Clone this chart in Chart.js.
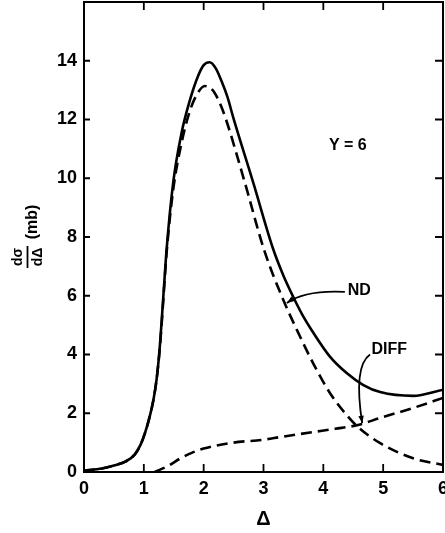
<!DOCTYPE html>
<html>
<head>
<meta charset="utf-8">
<script src="https://cdn.jsdelivr.net/npm/chart.js@4"></script>
<style>
  body { margin: 0; background: #fff; }
  #wrap { width: 445px; height: 533px; }
</style>
</head>
<body>
<div id="wrap"><canvas id="c" width="445" height="533"></canvas></div>
<script>
// --- data ---
const xTicks = [0, 1, 2, 3, 4, 5, 6];
const yTicks = [0, 2, 4, 6, 8, 10, 12, 14];

// solid curve (total)
const totX = [0, 0.3, 0.5, 0.7, 0.85, 0.95, 1.02, 1.1, 1.16, 1.21, 1.26, 1.3, 1.34, 1.38, 1.49, 1.63, 1.77, 1.9, 2.0, 2.1, 2.2, 2.3, 2.4, 2.49, 2.83, 3.16, 3.33, 3.5, 3.65, 3.83, 4.11, 4.39, 4.67, 4.95, 5.5, 6.0];
const totY = [0.05, 0.12, 0.22, 0.36, 0.6, 0.95, 1.33, 1.9, 2.45, 3.1, 4.1, 5.2, 6.4, 7.56, 9.84, 11.54, 12.66, 13.45, 13.85, 13.95, 13.75, 13.3, 12.75, 12.1, 9.84, 7.6, 6.7, 5.95, 5.35, 4.75, 3.93, 3.37, 2.96, 2.72, 2.59, 2.8];

// dashed peaked curve (ND)
const ndX = [0, 0.3, 0.5, 0.7, 0.85, 0.95, 1.02, 1.1, 1.16, 1.21, 1.26, 1.3, 1.34, 1.38, 1.49, 1.63, 1.77, 1.9, 2.02, 2.15, 2.25, 2.36, 2.69, 3.01, 3.33, 3.56, 3.83, 4.11, 4.39, 4.58, 4.95, 5.5, 6.0];
const ndY = [0.05, 0.12, 0.22, 0.36, 0.6, 0.95, 1.33, 1.9, 2.45, 3.1, 4.05, 5.1, 6.3, 7.45, 9.6, 11.2, 12.3, 12.9, 13.14, 13.0, 12.65, 12.08, 9.84, 7.56, 5.86, 4.83, 3.7, 2.69, 1.94, 1.53, 0.98, 0.47, 0.24];

// dashed rising curve (DIFF)
const diffX = [1.18, 1.4, 1.6, 1.8, 2.0, 2.5, 3.0, 3.28, 3.83, 4.2, 4.58, 4.95, 5.5, 6.0];
const diffY = [0, 0.2, 0.45, 0.65, 0.8, 1.0, 1.1, 1.19, 1.36, 1.47, 1.6, 1.84, 2.18, 2.52];

const toPts = (xs, ys) => xs.map((x, i) => ({ x, y: ys[i] }));

const FONT = '"Liberation Sans", Arial, sans-serif';

// frame, inward ticks, labels and arrows
const decor = {
    id: 'decor',
    afterDraw(chart) {
        const { ctx, chartArea: a, scales: { x, y } } = chart;
        ctx.save();
        ctx.strokeStyle = '#000';
        ctx.fillStyle = '#000';

        // box
        ctx.lineWidth = 2;
        ctx.strokeRect(a.left, a.top, a.right - a.left, a.bottom - a.top);

        // inward ticks
        const tl = 8;
        ctx.lineWidth = 1.8;
        ctx.beginPath();
        xTicks.forEach(v => {
            const px = x.getPixelForValue(v);
            ctx.moveTo(px, a.bottom); ctx.lineTo(px, a.bottom - tl);
            ctx.moveTo(px, a.top); ctx.lineTo(px, a.top + tl);
        });
        yTicks.forEach(v => {
            const py = y.getPixelForValue(v);
            ctx.moveTo(a.left, py); ctx.lineTo(a.left + 6, py);
            ctx.moveTo(a.right, py); ctx.lineTo(a.right - tl, py);
        });
        ctx.stroke();

        const P = (dx, dy) => [x.getPixelForValue(dx), y.getPixelForValue(dy)];

        // texts
        ctx.textAlign = 'center';
        ctx.textBaseline = 'middle';
        ctx.font = 'bold 16px ' + FONT;
        let [tx, ty] = P(4.41, 11.1);
        ctx.fillText('Y = 6', tx, ty);
        [tx, ty] = P(4.6, 6.16);
        ctx.fillText('ND', tx, ty);
        [tx, ty] = P(5.1, 4.17);
        ctx.fillText('DIFF', tx, ty);

        // arrows
        const arrow = (s, c, e) => {
            const [sx, sy] = P(...s), [cx, cy] = P(...c), [ex, ey] = P(...e);
            ctx.lineWidth = 1.8;
            ctx.beginPath();
            ctx.moveTo(sx, sy);
            ctx.quadraticCurveTo(cx, cy, ex, ey);
            ctx.stroke();
            const ang = Math.atan2(ey - cy, ex - cx);
            ctx.beginPath();
            ctx.moveTo(ex, ey);
            ctx.lineTo(ex - 8 * Math.cos(ang - 0.35), ey - 8 * Math.sin(ang - 0.35));
            ctx.lineTo(ex - 8 * Math.cos(ang + 0.35), ey - 8 * Math.sin(ang + 0.35));
            ctx.closePath();
            ctx.fill();
        };
        arrow([4.36, 6.13], [3.7, 6.2], [3.39, 5.75]);
        arrow([4.78, 4.0], [4.5, 3.6], [4.65, 1.66]);

        // x title
        ctx.font = 'bold 20px ' + FONT;
        ctx.fillText('Δ', (a.left + a.right) / 2, 519);

        // y title, rotated
        ctx.translate(27, 246);
        ctx.rotate(-Math.PI / 2);
        ctx.font = 'bold 14px ' + FONT;
        ctx.fillText('dσ', -11, -9);
        ctx.fillText('dΔ', -11, 11);
        ctx.lineWidth = 1.8;
        ctx.beginPath();
        ctx.moveTo(-22, 0.5); ctx.lineTo(0, 0.5);
        ctx.stroke();
        ctx.font = 'bold 16px ' + FONT;
        ctx.fillText('(mb)', 24, 6);
        ctx.restore();
    }
};

const ds = (label, pts, dash) => ({
    label,
    data: pts,
    borderColor: '#000',
    borderWidth: 2.6,
    borderDash: dash,
    pointRadius: 0,
    fill: false,
    cubicInterpolationMode: 'monotone'
});

new Chart(document.getElementById('c'), {
    type: 'line',
    data: {
        datasets: [
            ds('total', toPts(totX, totY), []),
            ds('ND', toPts(ndX, ndY), [11, 6]),
            ds('DIFF', toPts(diffX, diffY), [11, 6])
        ]
    },
    options: {
        responsive: false,
        animation: false,
        layout: { padding: { top: 2, right: 2, left: 0, bottom: 0 } },
        plugins: { legend: { display: false }, tooltip: { enabled: false } },
        scales: {
            x: {
                type: 'linear', min: 0, max: 6,
                grid: { display: false, drawTicks: false },
                border: { display: false },
                afterFit: s => { s.height = 61; s.paddingLeft = 0; s.paddingRight = 0; },
                afterBuildTicks: s => { s.ticks = xTicks.map(v => ({ value: v })); },
                ticks: { padding: 6, color: '#000', font: { family: FONT, weight: 'bold', size: 18 } }
            },
            y: {
                min: 0, max: 16,
                grid: { display: false, drawTicks: false },
                border: { display: false },
                afterFit: s => { s.width = 84; s.paddingTop = 0; s.paddingBottom = 0; },
                afterBuildTicks: s => { s.ticks = yTicks.map(v => ({ value: v })); },
                ticks: { padding: 7, color: '#000', font: { family: FONT, weight: 'bold', size: 18 } }
            }
        }
    },
    plugins: [decor]
});
</script>
</body>
</html>
